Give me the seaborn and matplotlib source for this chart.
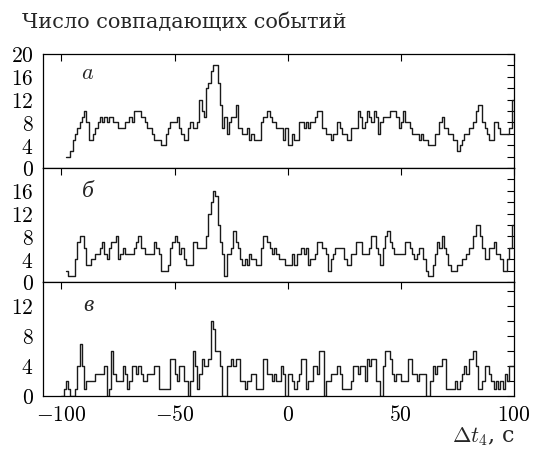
import numpy as np
import pandas as pd
import matplotlib
matplotlib.use("Agg")
import matplotlib.pyplot as plt
import seaborn as sns

# coincidence counts per 1 s bin
start_a = -98
counts_a = [2, 2, 3, 5, 6, 7, 8, 9, 10, 8,
            5, 5, 6, 7, 8, 9, 8, 9, 8, 9,
            9, 8, 8, 7, 7, 7, 8, 8, 9, 8,
            10, 10, 10, 9, 9, 8, 7, 7, 6, 5,
            5, 5, 4, 4, 6, 7, 8, 8, 8, 9,
            7, 6, 5, 5, 7, 8, 7, 7, 8, 12,
            10, 9, 14, 15, 17, 18, 18, 15, 11, 7,
            9, 6, 8, 9, 9, 11, 7, 7, 6, 6,
            7, 5, 6, 5, 5, 5, 8, 9, 9, 10,
            9, 8, 8, 7, 7, 7, 5, 7,
            4, 4, 6, 5, 5, 8, 8, 7, 8, 7,
            8, 8, 9, 10, 10, 7, 7, 6, 6, 5,
            6, 6, 8, 7, 6, 6, 5, 5, 7, 7,
            7, 10, 9, 7, 8, 10, 9, 8, 10, 9,
            6, 8, 9, 9, 9, 10, 10, 10, 9, 7,
            8, 10, 8, 8, 7, 6, 6, 6, 5, 6,
            5, 5, 4, 4, 4, 6, 6, 8, 9, 7,
            7, 6, 6, 5, 5, 3, 4, 5, 6, 6,
            7, 7, 8, 10, 11, 11, 8, 7, 6, 5,
            5, 8, 8, 7, 6, 6, 6, 6, 7, 12]

start_b = -98
counts_b = [2, 1, 1, 1, 4, 7, 8, 8, 6, 3,
            3, 4, 4, 5, 5, 6, 7, 5, 4, 6,
            7, 7, 8, 4, 5, 6, 5, 5, 5, 5,
            6, 7, 8, 6, 6, 5, 5, 5, 5, 7,
            6, 5, 2, 2, 2, 3, 6, 7, 8, 7,
            5, 6, 4, 3, 3, 3, 7, 7, 6, 6,
            6, 6, 8, 12, 14, 16, 15, 10, 7, 5,
            1, 5, 5, 6, 9, 7, 6, 4, 3, 4,
            3, 5, 4, 4, 3, 3, 6, 8, 8, 7,
            6, 5, 6, 5, 4, 4, 4, 3,
            3, 3, 5, 3, 5, 5, 6, 5, 6, 3,
            4, 4, 5, 7, 7, 6, 6, 5, 2, 4,
            5, 6, 6, 6, 6, 4, 3, 3, 5, 5,
            7, 7, 7, 5, 5, 5, 6, 8, 8, 6,
            5, 3, 6, 8, 9, 7, 6, 5, 5, 5,
            5, 5, 7, 7, 6, 5, 4, 5, 6, 6,
            4, 2, 1, 1, 3, 5, 7, 6, 8, 6,
            5, 3, 2, 2, 2, 3, 3, 4, 4, 5,
            6, 6, 8, 10, 10, 8, 6, 4, 4, 6,
            6, 7, 5, 5, 4, 2, 2, 4, 6, 10]

start_c = -100
counts_c = [0, 1, 2, 1, 0, 0, 1, 4, 7, 4,
            1, 2, 2, 2, 2, 3, 3, 3, 3, 4,
            0, 1, 6, 3, 2, 2, 2, 4, 3, 1,
            2, 4, 4, 3, 4, 3, 2, 2, 3, 3,
            3, 4, 4, 1, 1, 1, 1, 1, 5, 5,
            3, 2, 4, 4, 2, 2, 0, 2, 6, 4,
            1, 3, 5, 4, 4, 5, 10, 9, 6, 6,
            4, 0, 0, 4, 4, 5, 4, 5, 5, 2,
            2, 1, 2, 2, 3, 3, 1, 1, 1, 5,
            5, 3, 3, 2, 3, 2, 2, 4, 3, 0,
            3, 3, 2, 1, 2, 3, 5, 5, 1, 2,
            2, 4, 4, 3, 6, 6, 0, 2, 2, 3,
            3, 3, 4, 3, 1, 1, 1, 1, 2, 4,
            4, 3, 4, 4, 2, 5, 4, 5, 5, 2,
            2, 0, 4, 6, 6, 5, 3, 2, 3, 3,
            2, 2, 2, 5, 5, 3, 3, 2, 3, 3,
            3, 0, 0, 2, 4, 3, 4, 4, 5, 5,
            1, 1, 1, 1, 2, 1, 2, 3, 4, 3,
            5, 5, 6, 4, 1, 1, 2, 4, 4, 3,
            2, 1, 2, 1, 2, 1, 3, 2, 4, 4]

panel_labels = ["$a$", "б", "в"]
y_tops = [20, 20, 15.2]
y_ticks = [np.arange(0, 21, 2), np.arange(0, 19, 2), np.arange(0, 15, 2)]
x_ticks = [-100, -50, 0, 50, 100]

sns.set_style("white")
plt.rcParams["font.family"] = ["DejaVu Serif", "Liberation Serif"]
plt.rcParams["mathtext.fontset"] = "cm"

fig, axes = plt.subplots(3, 1, figsize=(5.35, 4.5), dpi=100, sharex=True)
fig.subplots_adjust(left=43.3 / 535, right=514 / 535, top=1 - 54 / 450,
                    bottom=1 - 396 / 450, hspace=0)

panels = [(start_a, counts_a), (start_b, counts_b), (start_c, counts_c)]
for i, (ax, (t0, counts)) in enumerate(zip(axes, panels)):
    df = pd.DataFrame({"t": np.arange(t0, t0 + len(counts)) + 0.5,
                       "n": counts})
    sns.histplot(data=df, x="t", weights="n", binwidth=1,
                 binrange=(t0, t0 + len(counts)), element="step", fill=False,
                 color="#1a1a1a", linewidth=1.0, ax=ax)
    ax.set_xlim(-108, 100)
    ax.set_ylim(0, y_tops[i])
    ax.set_ylabel("")
    ax.set_xlabel("")
    ax.set_yticks(y_ticks[i])
    ax.set_yticklabels([f"${v}$" if v % 4 == 0 else "" for v in y_ticks[i]])
    ax.set_xticks(x_ticks)
    ax.tick_params(direction="in", length=5, width=0.8, top=True, right=True,
                   labelsize=15.5, colors="black")
    ax.tick_params(axis="y", pad=7)
    ax.tick_params(axis="x", pad=6)
    for sp in ax.spines.values():
        sp.set_linewidth(0.9)
        sp.set_color("black")
    if i == 0:
        ax.text(0.095, 0.83, panel_labels[i], transform=ax.transAxes,
                fontsize=16, ha="center", va="center")
    else:
        ax.text(0.095, 0.79, panel_labels[i], transform=ax.transAxes,
                fontsize=17, ha="center", va="center", style="italic",
                family="Liberation Serif")

axes[-1].set_xticklabels([f"${v}$" for v in x_ticks])

fig.text(22 / 535, 1 - 22 / 450, "Число совпадающих событий", fontsize=15,
         ha="left", va="center")
fig.text(515 / 535, 1 - 437 / 450, r"$\Delta t_4$, с", fontsize=16,
         ha="right", va="center")

fig.savefig("out.png", dpi=100)
